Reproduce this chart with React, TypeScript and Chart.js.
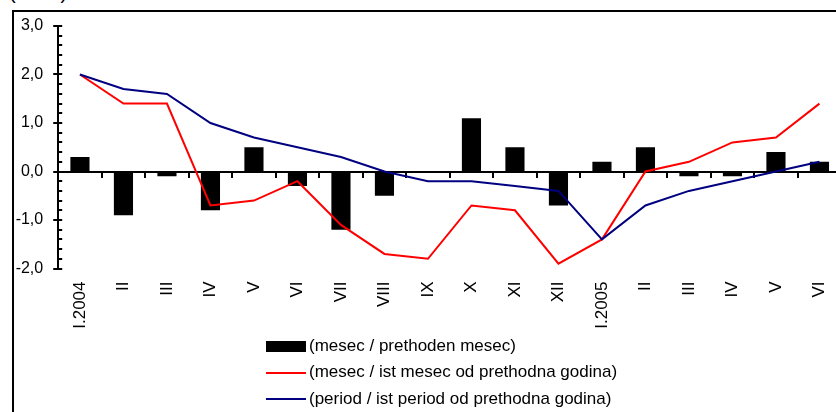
import React, { useEffect, useRef } from 'react';
import { Chart, registerables } from 'chart.js';

Chart.register(...registerables);

// ---- data ----
const categories = ['I.2004', 'II', 'III', 'IV', 'V', 'VI', 'VII', 'VIII', 'IX', 'X', 'XI', 'XII', 'I.2005', 'II', 'III', 'IV', 'V', 'VI'];
const monthOnPrevMonth = [0.3, -0.9, -0.1, -0.8, 0.5, -0.3, -1.2, -0.5, 0.0, 1.1, 0.5, -0.7, 0.2, 0.5, -0.1, -0.1, 0.4, 0.2];
const monthOnSameMonthPrevYear = [2.0, 1.4, 1.4, -0.7, -0.6, -0.2, -1.1, -1.7, -1.8, -0.7, -0.8, -1.9, -1.4, 0.0, 0.2, 0.6, 0.7, 1.4];
const periodOnSamePeriodPrevYear = [2.0, 1.7, 1.6, 1.0, 0.7, 0.5, 0.3, 0.0, -0.2, -0.2, -0.3, -0.4, -1.4, -0.7, -0.4, -0.2, 0.0, 0.2];
const seriesLabels = [
  '(mesec / prethoden mesec)',
  '(mesec / ist mesec od prethodna godina)',
  '(period / ist period od prethodna godina)',
];
const yMin = -2;
const yMax = 3;
const yMajorStep = 1;
const yMinorStep = 0.2;
const unitNote = '(во %)';

const FONT = '"Liberation Sans", Arial, sans-serif';

const axisTickMarks = {
  id: 'axisTickMarks',
  afterDraw(chart: any) {
    const opts = chart.options.plugins.axisTickMarks;
    const ys = chart.scales.y;
    const ctx = chart.ctx;
    const x0 = ys.right;
    ctx.save();
    ctx.strokeStyle = '#000';
    ctx.lineWidth = opts.lineWidth;
    const n = Math.round((ys.max - ys.min) / opts.minorStep);
    for (let i = 0; i <= n; i++) {
      const v = ys.min + i * opts.minorStep;
      const major = Math.abs(v / opts.majorStep - Math.round(v / opts.majorStep)) < 1e-6;
      const y = Math.round(ys.getPixelForValue(v));
      ctx.beginPath();
      ctx.moveTo(x0 - (major ? opts.majorOut : 0), y);
      ctx.lineTo(x0 + opts.inLen, y);
      ctx.stroke();
    }
    ctx.restore();
  },
};

const rowLegend = {
  id: 'rowLegend',
  afterDraw(chart: any) {
    const o = chart.options.plugins.rowLegend;
    const ctx = chart.ctx;
    ctx.save();
    ctx.font = `${o.fontSize}px ${FONT}`;
    ctx.textBaseline = 'middle';
    ctx.textAlign = 'left';
    chart.data.datasets.forEach((ds: any, i: number) => {
      const cy = o.top + i * o.rowGap;
      if (ds.type === 'bar') {
        ctx.fillStyle = ds.backgroundColor;
        ctx.fillRect(o.left, Math.round(cy - o.boxHeight / 2), o.boxWidth, o.boxHeight);
      } else {
        ctx.strokeStyle = ds.borderColor;
        ctx.lineWidth = ds.borderWidth;
        ctx.beginPath();
        ctx.moveTo(o.left, Math.round(cy));
        ctx.lineTo(o.left + o.boxWidth, Math.round(cy));
        ctx.stroke();
      }
      ctx.fillStyle = '#000';
      ctx.fillText(ds.label, o.left + o.boxWidth + o.gap, cy);
    });
    ctx.restore();
  },
};

export default function App() {
  const ref = useRef<HTMLCanvasElement | null>(null);

  useEffect(() => {
    if (!ref.current) return;
    const chart = new Chart(ref.current, {
      type: 'bar',
      data: {
        labels: categories,
        datasets: [
          {
            type: 'bar',
            label: seriesLabels[0],
            data: monthOnPrevMonth,
            backgroundColor: '#000000',
            borderWidth: 0,
            barPercentage: 0.44,
            categoryPercentage: 1,
            xAxisID: 'x',
            yAxisID: 'y',
            order: 3,
          },
          {
            type: 'line',
            label: seriesLabels[1],
            data: monthOnSameMonthPrevYear,
            borderColor: '#FF0000',
            backgroundColor: '#FF0000',
            borderWidth: 2,
            pointRadius: 0,
            tension: 0,
            fill: false,
            xAxisID: 'x',
            yAxisID: 'y',
            order: 2,
          },
          {
            type: 'line',
            label: seriesLabels[2],
            data: periodOnSamePeriodPrevYear,
            borderColor: '#000080',
            backgroundColor: '#000080',
            borderWidth: 2,
            pointRadius: 0,
            tension: 0,
            fill: false,
            xAxisID: 'x',
            yAxisID: 'y',
            order: 1,
          },
        ] as any,
      },
      options: {
        animation: false,
        responsive: false,
        events: [],
        layout: { padding: { left: 0, right: 12.8, top: 14, bottom: 83.5 } },
        scales: {
          x: {
            type: 'category',
            position: 'bottom',
            offset: true,
            grid: { display: false, drawTicks: false },
            border: { display: false },
            ticks: {
              autoSkip: false,
              minRotation: 90,
              maxRotation: 90,
              padding: 13,
              color: '#000',
              font: { family: FONT, size: 17 },
            },
            afterFit: (s: any) => {
              s.height = 60;
            },
          },
          x2: {
            type: 'category',
            axis: 'x',
            position: { y: 0 },
            offset: true,
            grid: {
              display: true,
              drawOnChartArea: false,
              drawTicks: true,
              tickLength: 5,
              offset: true,
              color: '#000',
              lineWidth: 2,
            },
            border: { display: true, color: '#000', width: 2 },
            ticks: { display: false },
          },
          y: {
            type: 'linear',
            position: 'left',
            min: yMin,
            max: yMax,
            grid: { display: false, drawTicks: false },
            border: { display: true, color: '#000', width: 2 },
            ticks: {
              stepSize: yMajorStep,
              padding: 15,
              color: '#000',
              font: { family: FONT, size: 16 },
              callback: (v: any) => Number(v).toFixed(1).replace('.', ','),
            },
            afterFit: (s: any) => {
              s.width = 44.2;
              s.paddingTop = 0;
              s.paddingBottom = 0;
            },
          },
        } as any,
        plugins: {
          legend: { display: false },
          tooltip: { enabled: false },
          axisTickMarks: { lineWidth: 2, minorStep: yMinorStep, majorStep: yMajorStep, majorOut: 5, inLen: 4 },
          rowLegend: { left: 252, top: 334.5, rowGap: 26.3, boxWidth: 40, boxHeight: 11, gap: 3, fontSize: 17 },
        } as any,
      },
      plugins: [axisTickMarks, rowLegend],
    });
    return () => chart.destroy();
  }, []);

  return (
    <div style={{ position: 'fixed', left: 0, top: 0, width: 836, height: 412, overflow: 'hidden', background: '#fff' }}>
      <div style={{ position: 'absolute', left: 9, top: -18, fontFamily: FONT, fontSize: 20, lineHeight: '20px', whiteSpace: 'nowrap', color: '#000' }}>
        {unitNote}
      </div>
      <div
        style={{
          position: 'absolute',
          left: 12,
          top: 10,
          width: 900,
          height: 500,
          border: '2px solid #000',
          boxSizing: 'border-box',
        }}
      />
      <div style={{ position: 'absolute', left: 14, top: 12, width: 840, height: 400 }}>
        <canvas ref={ref} width={840} height={400} style={{ width: 840, height: 400, display: 'block' }} />
      </div>
    </div>
  );
}
